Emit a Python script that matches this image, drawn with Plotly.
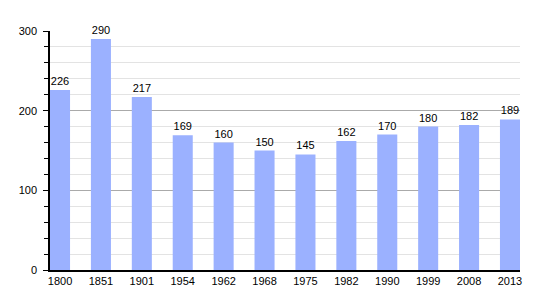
import plotly.graph_objects as go

years = ["1800", "1851", "1901", "1954", "1962", "1968", "1975", "1982", "1990", "1999", "2008", "2013"]
population = [226, 290, 217, 169, 160, 150, 145, 162, 170, 180, 182, 189]

fig = go.Figure(go.Bar(
    x=years, y=population,
    marker=dict(color="#9bb1ff", line=dict(width=0)),
    text=[str(v) for v in population], textposition="outside",
    textfont=dict(color="black", size=11, family="Liberation Sans, Arial, sans-serif"),
    cliponaxis=False,
))

fig.update_layout(
    width=550, height=300,
    margin=dict(l=50, r=30, t=31, b=30),
    plot_bgcolor="white", paper_bgcolor="white",
    bargap=0.51,
    showlegend=False,
    font=dict(family="Liberation Sans, Arial, sans-serif", size=11, color="black"),
    xaxis=dict(
        type="category", range=[-0.245, 11.245],
        showline=True, linecolor="black", linewidth=1.5,
        ticks="", showgrid=False, tickfont=dict(size=11, color="black"),
    ),
    yaxis=dict(
        range=[0, 300], tickvals=[0, 100, 200, 300],
        showline=True, linecolor="black", linewidth=1.5,
        ticks="outside", ticklen=5, tickcolor="black",
        ticklabelstandoff=4,
        showgrid=True, gridcolor="#aaaaaa", gridwidth=1,
        zeroline=False, tickfont=dict(size=11, color="black"),
        minor=dict(dtick=20, showgrid=True, gridcolor="#e3e3e3", gridwidth=1,
                   ticks="outside", ticklen=4, tickcolor="black"),
    ),
)

fig.write_html("out.html")
